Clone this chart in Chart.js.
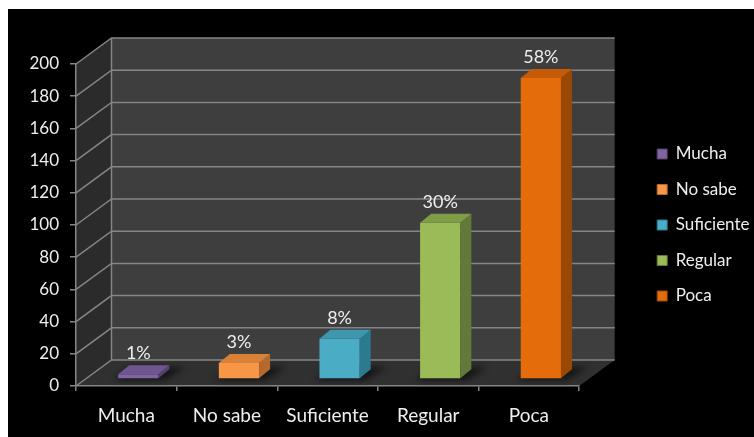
<!DOCTYPE html>
<html>
<head>
<meta charset="utf-8">
<script src="https://cdn.jsdelivr.net/npm/chart.js@4.4.1/dist/chart.umd.min.js"></script>
<style>
  html, body { margin: 0; padding: 0; background: #fff; }
  #wrap { position: absolute; left: 8px; top: 9px; width: 746px; height: 428px; background: #000; }
</style>
</head>
<body>
<div id="wrap"><canvas id="myChart" width="746" height="428"></canvas></div>
<script>
var categories = ['Mucha', 'No sabe', 'Suficiente', 'Regular', 'Poca'];
var counts = [3, 10, 25, 97, 187];
var yMax = 200;
var yStep = 20;

var frontColors = ['#8064a2', '#f79646', '#4bacc6', '#9bbb59', '#e46c0a'];
var topColors = ['#6f5690', '#d98237', '#3f97ae', '#7f9d47', '#c55b06'];
var sideColors = ['#54416e', '#b5692c', '#2c7a8f', '#63793a', '#9a4905'];

var textColor = '#eeeeee';
var lineColor = '#858585';

// percentage shown above each bar
var total = counts.reduce(function(a, b) { return a + b; }, 0);
var pctLabels = counts.map(function(v) { return Math.round(v * 100 / total) + '%'; });

// oblique depth offsets: walls, bar position inside the box, bar thickness
var wallDepth = [35.5, -26];
var barShift = [12, -7];
var barDepth = [11, -9];

// legend sizing: the legend box is clipped, so make it as wide as its longest label
var legendFont = 17, legendPad = 18.5, legendBox = 10, legendGap = 59.5;
var mctx = document.createElement('canvas').getContext('2d');
mctx.font = 'normal ' + legendFont + 'px Lato';
var longest = Math.max.apply(null, categories.map(function(c) { return mctx.measureText(c).width; }));
var legendWidth = Math.ceil(legendPad + legendBox + legendFont / 2 + longest + 10);
var plotRight = 571;

function fillPoly(ctx, pts, color) {
    ctx.beginPath();
    ctx.moveTo(pts[0][0], pts[0][1]);
    for (var i = 1; i < pts.length; i++) ctx.lineTo(pts[i][0], pts[i][1]);
    ctx.closePath();
    ctx.fillStyle = color;
    ctx.fill();
}

var box3d = {
    id: 'box3d',
    beforeDraw: function(chart) {
        var ctx = chart.ctx, ys = chart.scales.y, a = chart.chartArea;
        var top = ys.getPixelForValue(yMax), bot = ys.getPixelForValue(0);
        var L = a.left, R = a.right, dx = wallDepth[0], dy = wallDepth[1];
        ctx.save();
        fillPoly(ctx, [[L + dx, top + dy], [R + dx, top + dy], [R + dx, bot + dy], [L + dx, bot + dy]], '#3e3e3e');
        fillPoly(ctx, [[L, top], [L + dx, top + dy], [L + dx, bot + dy], [L, bot]], '#2b2b2b');
        fillPoly(ctx, [[L, bot], [L + dx, bot + dy], [R + dx, bot + dy], [R, bot]], '#303030');
        ctx.strokeStyle = lineColor;
        ctx.lineWidth = 1.5;
        ys.ticks.forEach(function(t) {
            var py = ys.getPixelForValue(t.value);
            ctx.beginPath();
            ctx.moveTo(L, py);
            ctx.lineTo(L + dx, py + dy);
            ctx.lineTo(R + dx, py + dy);
            ctx.stroke();
        });
        ctx.beginPath();
        ctx.moveTo(L + dx, top + dy);
        ctx.lineTo(L + dx, bot + dy);
        ctx.stroke();
        ctx.restore();
    },
    beforeDatasetsDraw: function(chart) {
        var ctx = chart.ctx;
        var meta = chart.getDatasetMeta(0);
        // soft shadows on the floor
        ctx.save();
        ctx.filter = 'blur(3px)';
        meta.data.forEach(function(bar) {
            var xl = bar.x - bar.width / 2 + barShift[0];
            var xr = bar.x + bar.width / 2 + barShift[0];
            var b = bar.base + barShift[1];
            fillPoly(ctx, [[xl - 4, b + 2], [xr + 6, b + 2], [xr + barDepth[0] + 16, b + barDepth[1] - 2], [xl + barDepth[0], b + barDepth[1] - 2]], 'rgba(0,0,0,0.55)');
        });
        ctx.restore();
        ctx.save();
        ctx.translate(barShift[0], barShift[1]);
    },
    afterDatasetsDraw: function(chart) {
        var ctx = chart.ctx;
        var meta = chart.getDatasetMeta(0);
        var sx = barDepth[0], sy = barDepth[1];
        meta.data.forEach(function(bar, i) {
            var xl = bar.x - bar.width / 2, xr = bar.x + bar.width / 2;
            fillPoly(ctx, [[xr, bar.y], [xr + sx, bar.y + sy], [xr + sx, bar.base + sy], [xr, bar.base]], sideColors[i]);
            fillPoly(ctx, [[xl, bar.y], [xl + sx, bar.y + sy], [xr + sx, bar.y + sy], [xr, bar.y]], topColors[i]);
        });
        ctx.restore();

        ctx.save();
        ctx.fillStyle = textColor;
        ctx.font = '18px Lato';
        ctx.textAlign = 'center';
        ctx.textBaseline = 'middle';
        meta.data.forEach(function(bar, i) {
            ctx.fillText(pctLabels[i], bar.x + barShift[0], bar.y + barShift[1] - 21);
        });
        ctx.restore();
    }
};

Chart.defaults.font.family = 'Lato';

var ctx = document.getElementById('myChart').getContext('2d');
var myChart = new Chart(ctx, {
    type: 'bar',
    data: {
        labels: categories,
        datasets: [{
            label: 'Respuestas',
            data: counts,
            backgroundColor: frontColors,
            borderWidth: 0,
            barPercentage: 0.4,
            categoryPercentage: 1.0,
            xAxisID: 'x',
            yAxisID: 'y',
            clip: false
        }]
    },
    options: {
        responsive: false,
        animation: false,
        devicePixelRatio: 1,
        layout: { padding: { top: 55, bottom: 11, left: 0, right: 746 - plotRight - legendGap - legendWidth } },
        plugins: {
            tooltip: { enabled: false },
            legend: {
                position: 'right',
                fullSize: false,
                maxWidth: legendWidth,
                labels: {
                    color: textColor,
                    font: { size: legendFont },
                    boxWidth: legendBox,
                    boxHeight: legendBox,
                    padding: legendPad,
                    textAlign: 'left',
                    generateLabels: function(chart) {
                        return categories.map(function(c, i) {
                            return {
                                text: c,
                                fillStyle: frontColors[i],
                                strokeStyle: sideColors[i],
                                lineWidth: 1,
                                fontColor: textColor,
                                index: i,
                                datasetIndex: 0
                            };
                        });
                    }
                }
            }
        },
        scales: {
            x: {
                grid: { display: true, drawOnChartArea: false, drawTicks: true, tickLength: 5, color: lineColor, lineWidth: 1.5, offset: true },
                border: { display: true, color: lineColor, width: 1.5 },
                ticks: { color: textColor, font: { size: 19 }, padding: 13 },
                afterFit: function(s) { s.height = 40; }
            },
            y: {
                min: 0,
                max: yMax,
                ticks: { stepSize: yStep, color: textColor, font: { size: 17 }, padding: 11 },
                grid: { display: true, drawOnChartArea: false, drawTicks: true, tickLength: 6, color: lineColor, lineWidth: 1.5 },
                border: { display: true, color: lineColor, width: 1.5 },
                afterFit: function(s) { s.width = 68; }
            },
            gap: {
                type: 'linear',
                position: 'right',
                display: true,
                grid: { display: false },
                ticks: { display: false },
                border: { display: false },
                afterFit: function(s) { s.width = legendGap; }
            }
        }
    },
    plugins: [box3d]
});
</script>
</body>
</html>
